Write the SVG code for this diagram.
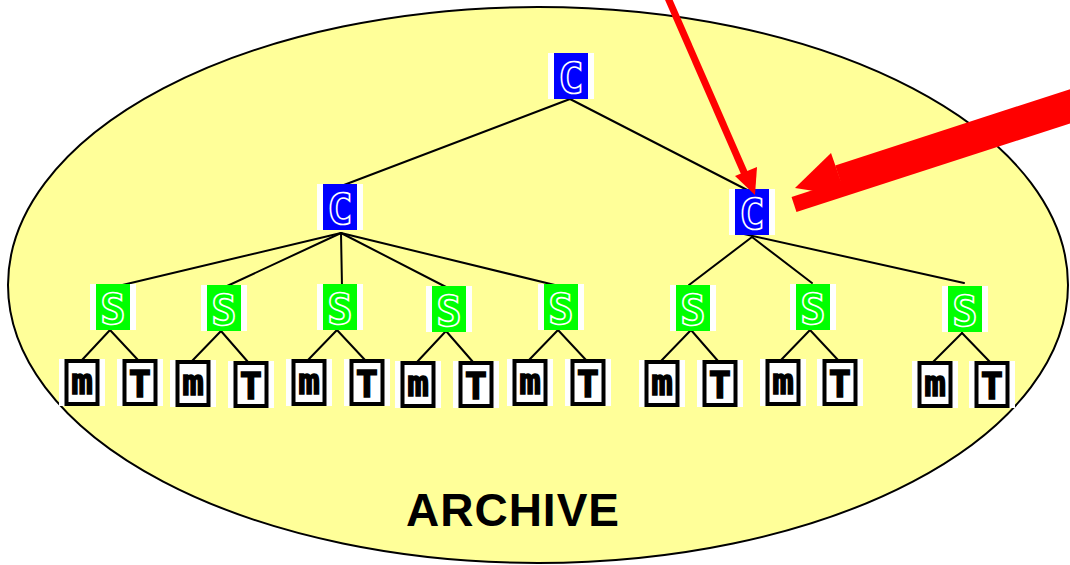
<svg xmlns="http://www.w3.org/2000/svg" width="1070" height="565" viewBox="0 0 1070 565">
<style>
.bg{fill:#fff}
.cb{fill:#0000ff}
.sb{fill:#00ff00}
.box{fill:#fff;stroke:#000;stroke-width:4}
.cl{font-family:"DejaVu Sans Mono","Liberation Mono",monospace;font-weight:bold;font-size:42px;text-anchor:middle;stroke:#fff;stroke-width:1.6}
.cc{fill:#0000ff}
.ss{fill:#00ff00}
.mt{font-family:"DejaVu Sans Mono","Liberation Mono",monospace;font-weight:bold;text-anchor:middle;fill:#000;stroke:#000;stroke-width:1.4}
.m{font-size:36px}
.t{font-size:37px}
#connectors line{stroke:#000;stroke-width:2;stroke-linecap:round}
.red{fill:#ff0000}
</style>
<defs>
<g id="cnode"><rect class="bg" x="-23" y="0" width="46" height="46"/><rect class="cb" x="-17" y="0" width="34" height="46"/><text class="cl cc" x="0" y="40">C</text></g>
<g id="snode"><rect class="bg" x="-23" y="0" width="46" height="46"/><rect class="sb" x="-17" y="0" width="34" height="46"/><text class="cl ss" x="0" y="40">S</text></g>
<g id="mnode"><rect class="bg" x="-23" y="0" width="46" height="47"/><rect class="box" x="-15.5" y="2" width="31" height="43"/><text class="mt m" x="0" y="35">m</text></g>
<g id="tnode"><rect class="bg" x="-23" y="0" width="46" height="47"/><rect class="box" x="-15.5" y="2" width="31" height="43"/><text class="mt t" x="0" y="38">T</text></g>
</defs>
<ellipse cx="538" cy="285" rx="530" ry="278" fill="#ffff99" stroke="#000" stroke-width="2"/>
<g id="connectors">
<line x1="570" y1="99" x2="336" y2="188"/>
<line x1="570" y1="99" x2="755" y2="194"/>
<line x1="341" y1="233" x2="114" y2="287"/>
<line x1="341" y1="233" x2="225" y2="287"/>
<line x1="341" y1="233" x2="342" y2="287"/>
<line x1="341" y1="233" x2="446" y2="287"/>
<line x1="341" y1="233" x2="563" y2="287"/>
<line x1="752" y1="237" x2="689" y2="285"/>
<line x1="752" y1="237" x2="812" y2="283"/>
<line x1="735" y1="232" x2="964" y2="283"/>
<line x1="110" y1="330" x2="82" y2="360"/><line x1="110" y1="330" x2="138" y2="360"/>
<line x1="221" y1="331" x2="192" y2="361"/><line x1="221" y1="331" x2="248" y2="362"/>
<line x1="337" y1="330" x2="308" y2="360"/><line x1="337" y1="330" x2="365" y2="360"/>
<line x1="446" y1="331" x2="417" y2="362"/><line x1="446" y1="331" x2="473" y2="362"/>
<line x1="558" y1="330" x2="529" y2="360"/><line x1="558" y1="330" x2="586" y2="360"/>
<line x1="691" y1="330" x2="661" y2="361"/><line x1="691" y1="330" x2="718" y2="361"/>
<line x1="810" y1="330" x2="781" y2="360"/><line x1="810" y1="330" x2="838" y2="360"/>
<line x1="962" y1="333" x2="933" y2="362"/><line x1="962" y1="333" x2="990" y2="362"/>
</g>
<g id="c-root"><use href="#cnode" x="571" y="53"/></g>
<g id="c-left"><use href="#cnode" x="340" y="184"/></g>
<g id="c-right"><use href="#cnode" x="752" y="189"/></g>
<g id="s1"><use href="#snode" x="113" y="284"/></g>
<g id="s2"><use href="#snode" x="224" y="285"/></g>
<g id="s3"><use href="#snode" x="340" y="284"/></g>
<g id="s4"><use href="#snode" x="449" y="286"/></g>
<g id="s5"><use href="#snode" x="561" y="284"/></g>
<g id="s6"><use href="#snode" x="693" y="285"/></g>
<g id="s7"><use href="#snode" x="813" y="284"/></g>
<g id="s8"><use href="#snode" x="965" y="286"/></g>
<g id="m1"><use href="#mnode" x="82" y="359"/></g>
<g id="t1"><use href="#tnode" x="140" y="359"/></g>
<g id="m2"><use href="#mnode" x="193" y="360"/></g>
<g id="t2"><use href="#tnode" x="251" y="361"/></g>
<g id="m3"><use href="#mnode" x="309" y="359"/></g>
<g id="t3"><use href="#tnode" x="367" y="359"/></g>
<g id="m4"><use href="#mnode" x="418" y="361"/></g>
<g id="t4"><use href="#tnode" x="476" y="361"/></g>
<g id="m5"><use href="#mnode" x="530" y="359"/></g>
<g id="t5"><use href="#tnode" x="588" y="359"/></g>
<g id="m6"><use href="#mnode" x="662" y="360"/></g>
<g id="t6"><use href="#tnode" x="720" y="360"/></g>
<g id="m7"><use href="#mnode" x="783" y="359"/></g>
<g id="t7"><use href="#tnode" x="840" y="359"/></g>
<g id="m8"><use href="#mnode" x="935" y="361"/></g>
<g id="t8"><use href="#tnode" x="992" y="361"/></g>
<g id="label"><text x="513" y="526" font-family="'Liberation Sans',Arial,sans-serif" font-weight="bold" font-size="46" letter-spacing="1" text-anchor="middle" fill="#000">ARCHIVE</text></g>
<g id="arrows">
<line x1="668" y1="-2" x2="747" y2="179" stroke="#ff0000" stroke-width="7"/>
<polygon class="red" points="755,195 735,176 757,167"/>
<line x1="1075" y1="113.5" x2="794" y2="204.5" stroke="#ff0000" stroke-width="16"/>
<line x1="1075" y1="97" x2="838" y2="174" stroke="#ff0000" stroke-width="18"/>
<polygon class="red" points="795,188 831,153 846,196"/>
</g>
</svg>
